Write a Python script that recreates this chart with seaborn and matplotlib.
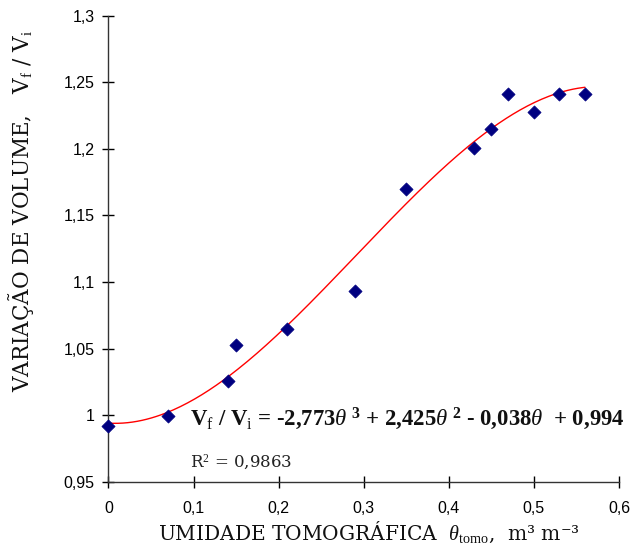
import numpy as np
import pandas as pd
import matplotlib
matplotlib.use("Agg")
import matplotlib.pyplot as plt
from matplotlib.ticker import FuncFormatter, FixedLocator
import seaborn as sns

# Data
theta = [0.00, 0.07, 0.14, 0.15, 0.21, 0.29, 0.35, 0.43, 0.45, 0.47, 0.50, 0.53, 0.56]
vol_ratio = [0.992, 0.999, 1.026, 1.053, 1.065, 1.093, 1.170, 1.201, 1.215, 1.241, 1.228, 1.241, 1.241]
# Trend line coefficients (cubic, from the chart equation)
coefs = [-2.773, 2.425, -0.038, 0.994]
x_ticks = [0, 0.1, 0.2, 0.3, 0.4, 0.5, 0.6]
y_ticks = [0.95, 1.0, 1.05, 1.1, 1.15, 1.2, 1.25, 1.3]

sns.set_style("ticks")
plt.rcParams["font.family"] = ["Liberation Sans", "DejaVu Sans"]
plt.rcParams["mathtext.fontset"] = "custom"
plt.rcParams["mathtext.rm"] = "Liberation Serif"
plt.rcParams["mathtext.it"] = "Liberation Serif:italic"
plt.rcParams["mathtext.bf"] = "Liberation Serif:bold"

fig = plt.figure(figsize=(6.33, 5.58), dpi=100)
ax = fig.add_axes([0.1714, 0.1367, 0.9779 - 0.1714, 0.9719 - 0.1367])

df = pd.DataFrame({"theta": theta, "vr": vol_ratio})
xs = np.linspace(min(theta), max(theta), 200)
fit = pd.DataFrame({"theta": xs, "vr": np.polyval(coefs, xs)})

sns.lineplot(data=fit, x="theta", y="vr", ax=ax, color="#FF0000", linewidth=1.0, zorder=2)
sns.scatterplot(data=df, x="theta", y="vr", ax=ax, marker="D", s=45, color="#000080",
                edgecolor="#000080", linewidth=0.5, zorder=3, clip_on=False)

ax.set_xlim(0, 0.6)
ax.set_ylim(0.95, 1.3)
ax.xaxis.set_major_locator(FixedLocator(x_ticks))
ax.yaxis.set_major_locator(FixedLocator(y_ticks))

def fmt(v, pos):
    s = ("%.2f" % v).rstrip("0").rstrip(".")
    return s.replace(".", ",")

ax.xaxis.set_major_formatter(FuncFormatter(fmt))
ax.yaxis.set_major_formatter(FuncFormatter(fmt))
ax.tick_params(axis="both", direction="inout", length=8, width=1, colors="black",
               labelsize=11.5, pad=6)
ax.tick_params(axis="x", pad=10)
for side in ["top", "right"]:
    ax.spines[side].set_visible(False)
for side in ["left", "bottom"]:
    ax.spines[side].set_color("#333333")
    ax.spines[side].set_linewidth(1.0)

ax.set_xlabel(r"UMIDADE TOMOGRÁFICA  $\mathit{\theta}_{\mathrm{tomo}}$,  m³ m⁻³",
              fontfamily="DejaVu Serif", fontsize=14.5, color="#111111")
ax.xaxis.label.set_va("center")
ax.xaxis.set_label_coords(0.51, -0.108)
ax.set_ylabel(r"VARIAÇÃO DE VOLUME,   V$_\mathrm{f}$ / V$_\mathrm{i}$",
              fontfamily="DejaVu Serif", fontsize=15.5, color="#111111")
ax.yaxis.label.set_va("center")
ax.yaxis.label.set_ha("center")
ax.yaxis.set_label_coords(-0.171, 0.581)

eq = (r"V$_\mathrm{f}$ / V$_\mathrm{i}$ = -2,773$\mathit{\theta}^{\ \mathbf{3}}$"
      r" + 2,425$\mathit{\theta}^{\ \mathbf{2}}$ - 0,038$\mathit{\theta}$  + 0,994")
ax.text(0.0957, 0.9923, eq, fontfamily="Liberation Serif", fontweight="bold", fontsize=16.4,
        va="baseline", ha="left", color="#111111")
ax.text(0.0957, 0.9609, r"R$^2$ = 0,9863", fontfamily="DejaVu Serif", fontsize=12,
        va="baseline", ha="left", color="#222222")

fig.savefig("out.png", dpi=100)
